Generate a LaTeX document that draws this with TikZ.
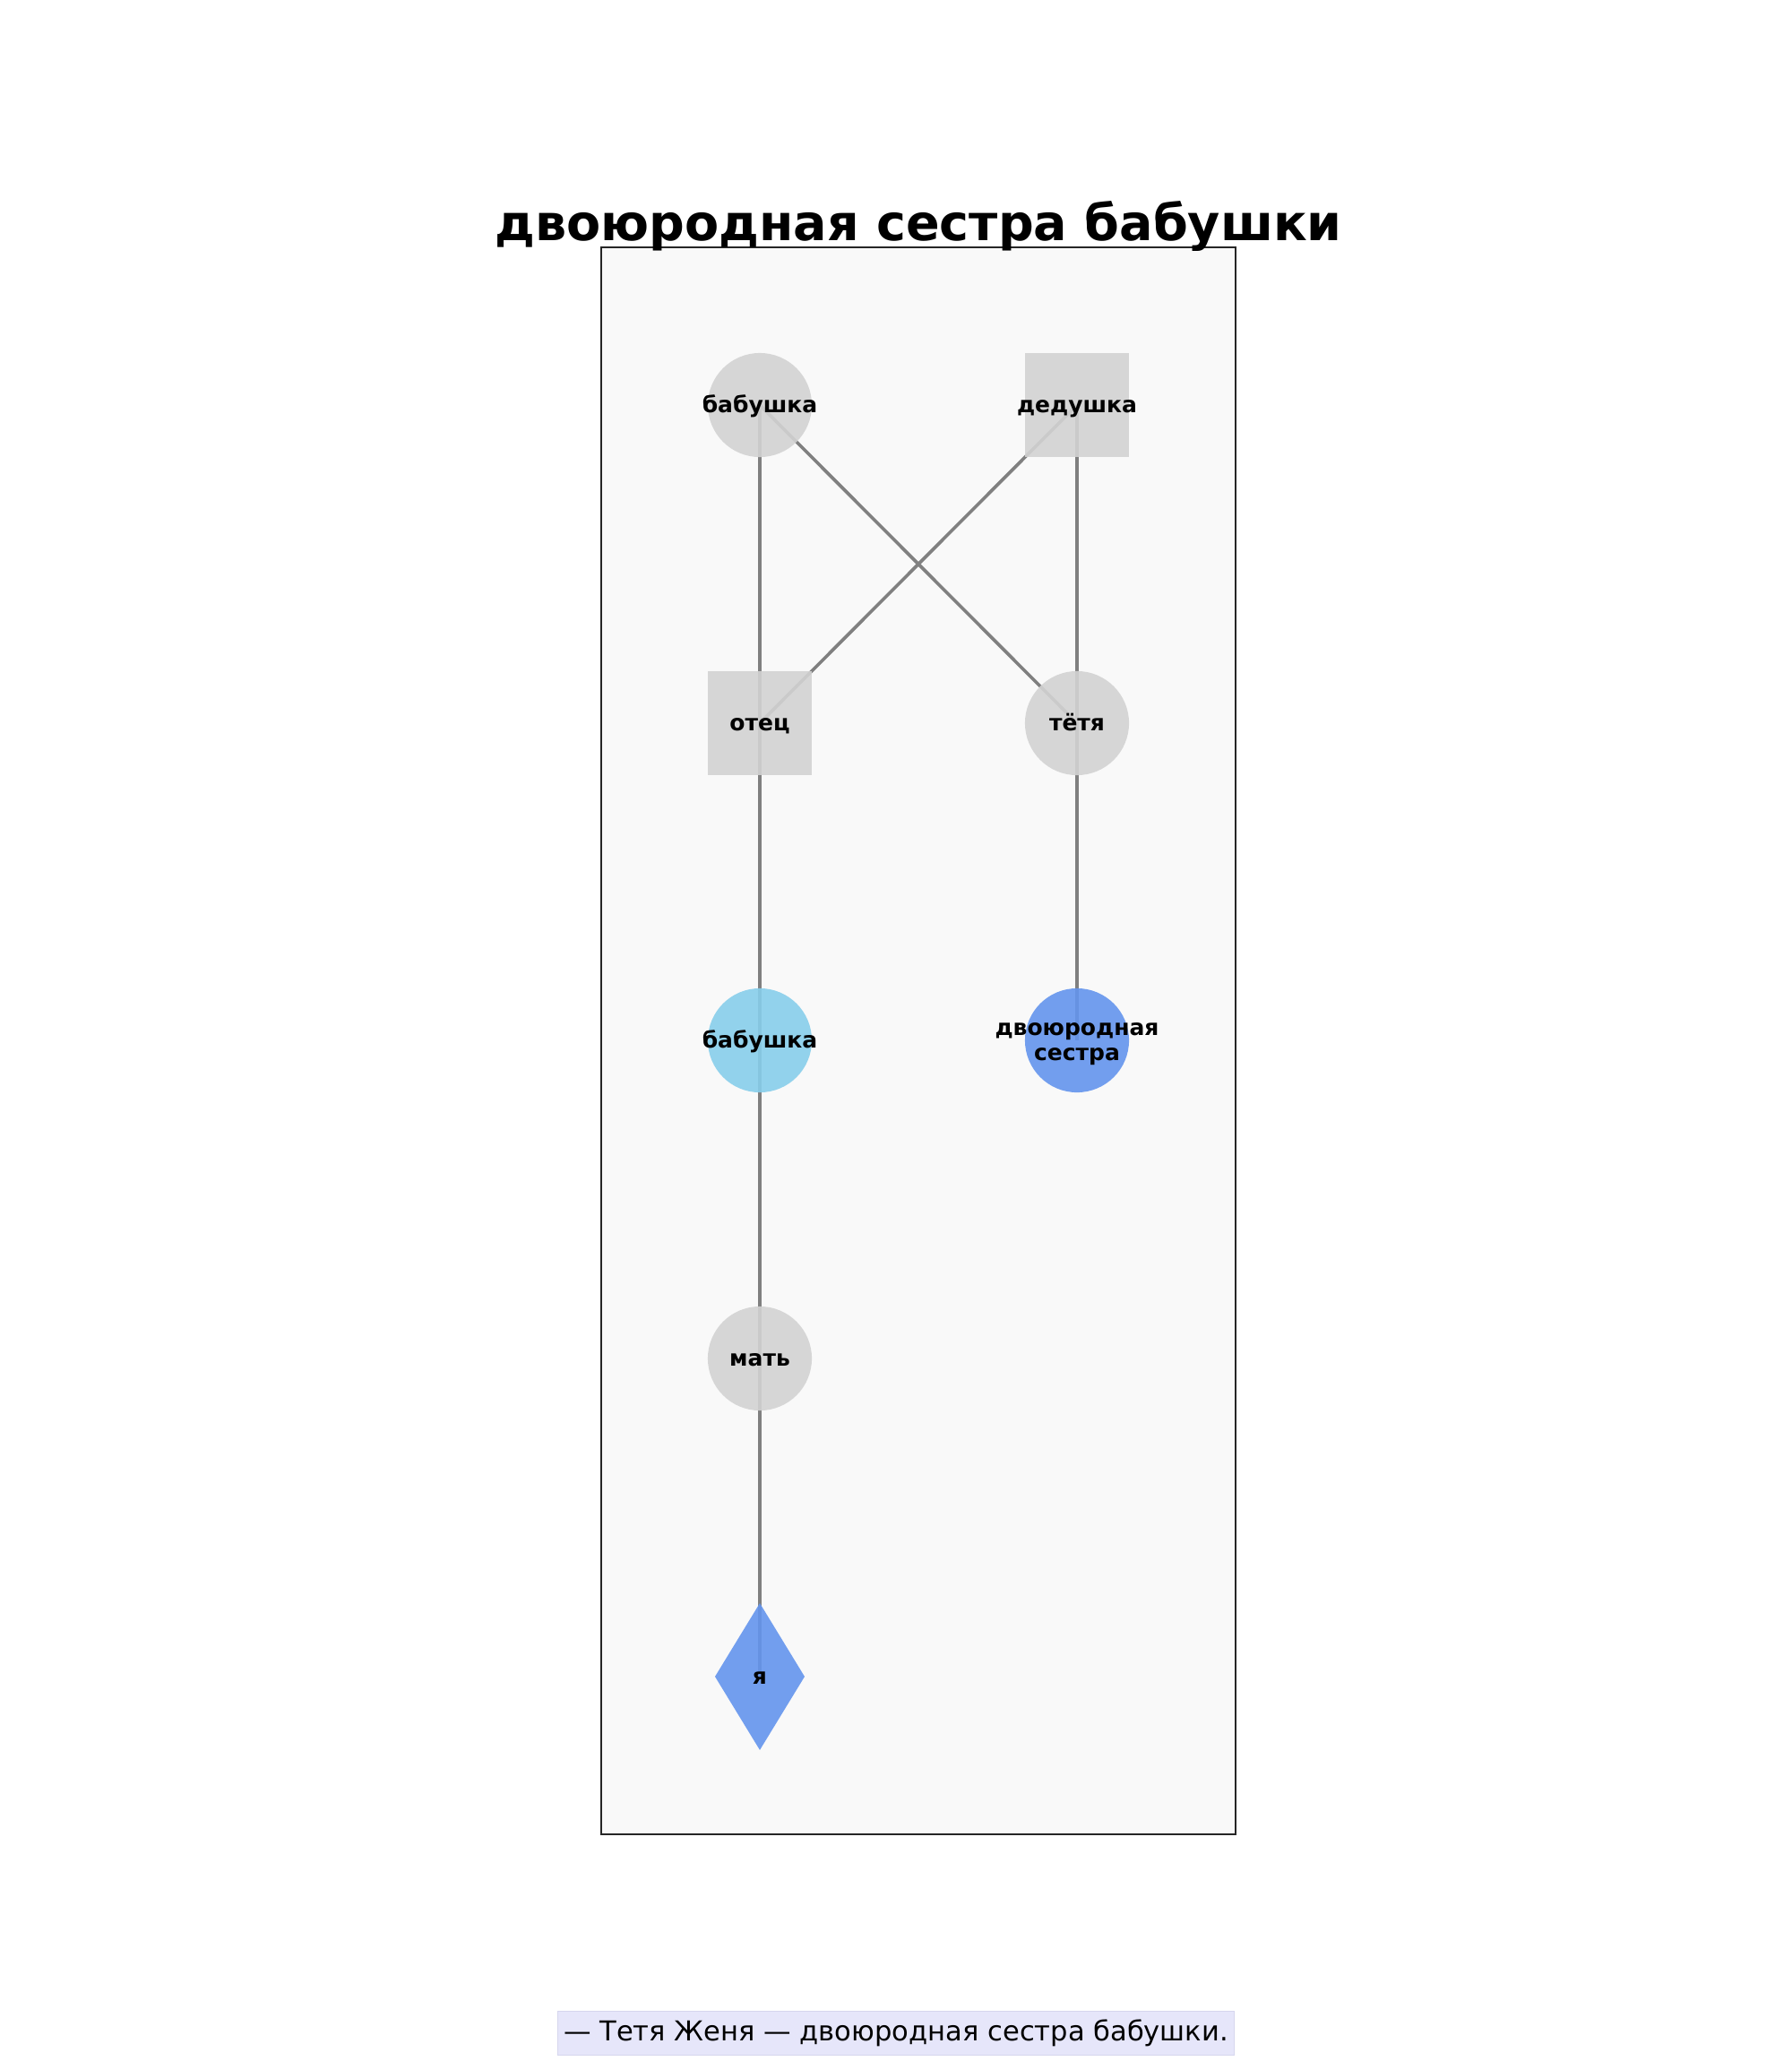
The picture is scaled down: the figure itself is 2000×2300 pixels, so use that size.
\documentclass[tikz,border=0pt]{standalone}
\usepackage{fontspec}
\setmainfont{DejaVu Sans}
\usetikzlibrary{shapes.geometric}
\definecolor{nodegray}{HTML}{D3D3D3}
\definecolor{skyb}{HTML}{87CEEB}
\definecolor{cornb}{HTML}{6495ED}
\definecolor{edgegray}{HTML}{808080}
\definecolor{framefill}{HTML}{F9F9F9}
\definecolor{lav}{HTML}{E6E6FA}
\definecolor{lavedge}{HTML}{D6D6EE}
\pgfdeclarelayer{back}
\pgfdeclarelayer{lines}
\pgfsetlayers{back,lines,main}
\tikzset{
  person/.style={inner sep=0pt, outer sep=0pt, draw=none, fill opacity=0.9},
  fem/.style={person, circle, minimum size=41.8pt},
  mal/.style={person, rectangle, minimum width=41.8pt, minimum height=41.8pt},
  selfnode/.style={person, diamond, minimum width=36pt, minimum height=59pt},
  lblbase/.style={font=\fontsize{9}{10}\selectfont\bfseries, align=center, inner sep=0pt, text=black},
  lbl/.style={lblbase, anchor=base, yshift=-2.9pt},
  lbltwo/.style={lblbase, yshift=-1.6pt},
  rel/.style={draw=edgegray, line width=1.3pt},
}
\begin{document}
\begin{tikzpicture}[x=0.36pt,y=-0.36pt]
\useasboundingbox (0,0) rectangle (2000,2300);
\begin{pgfonlayer}{back}
\fill[white] (0,0) rectangle (2000,2300);
\draw[fill=framefill, draw=black!85, line width=0.7pt] (671,276) rectangle (1379,2047);
\end{pgfonlayer}
\node[font=\fontsize{20}{24}\selectfont\bfseries, anchor=base] (title) at (1025,268) {двоюродная сестра бабушки};
% people
\node[fem, fill=nodegray] (gm) at (848,452) {};
\node[mal, fill=nodegray] (gf) at (1202,452) {};
\node[mal, fill=nodegray] (fa) at (848,807) {};
\node[fem, fill=nodegray] (au) at (1202,807) {};
\node[fem, fill=skyb] (gm2) at (848,1161) {};
\node[fem, fill=cornb] (cs) at (1202,1161) {};
\node[fem, fill=nodegray] (mo) at (848,1516) {};
\node[selfnode, fill=cornb] (me) at (848,1871) {};
% connectors
\begin{pgfonlayer}{lines}
\draw[rel] (gm.center) -- (fa.center);
\draw[rel] (gm.center) -- (au.center);
\draw[rel] (gf.center) -- (fa.center);
\draw[rel] (gf.center) -- (au.center);
\draw[rel] (fa.center) -- (gm2.center);
\draw[rel] (au.center) -- (cs.center);
\draw[rel] (gm2.center) -- (mo.center);
\draw[rel] (mo.center) -- (me.center);
\end{pgfonlayer}
% labels
\node[lbl] (lgm) at (gm.center) {бабушка};
\node[lbl] (lgf) at (gf.center) {дедушка};
\node[lbl] (lfa) at (fa.center) {отец};
\node[lbl] (lau) at (au.center) {тётя};
\node[lbl] (lgm2) at (gm2.center) {бабушка};
\node[lbltwo] (lcs) at (cs.center) {двоюродная\\сестра};
\node[lbl] (lmo) at (mo.center) {мать};
\node[lbl] (lme) at (me.center) {я};
% caption
\node[fill=lav, draw=lavedge, line width=0.4pt, font=\fontsize{11}{13}\selectfont, inner xsep=2.5pt, minimum height=15.8pt] (cap) at (1000,2269) {— Тетя Женя — двоюродная сестра бабушки.};
\end{tikzpicture}
\end{document}
